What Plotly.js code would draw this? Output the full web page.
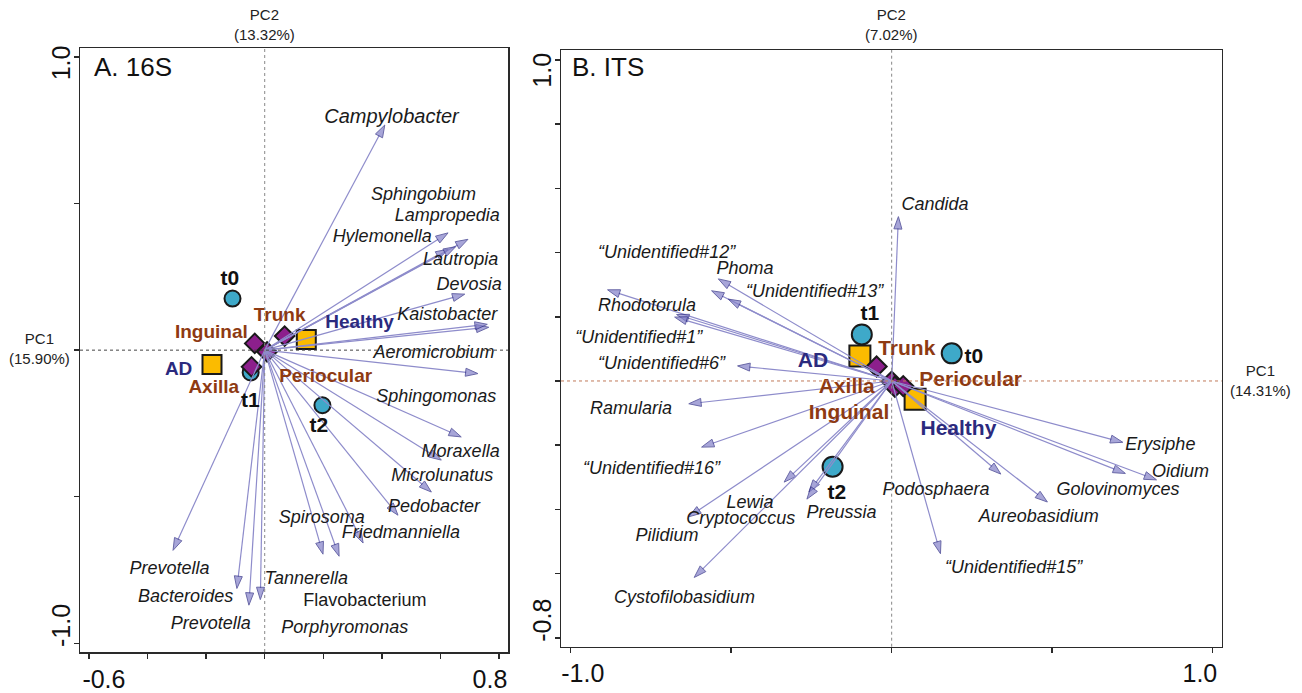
<!DOCTYPE html>
<html><head><meta charset="utf-8">
<script src="https://cdn.plot.ly/plotly-3.0.1.min.js"></script>
<style>html,body{margin:0;padding:0;background:#fff}#chart{width:1302px;height:693px}</style>
</head><body><div id="chart"></div>
<script>
// ---------- Panel A: 16S ----------
const circleLabelsA = ['t0','t1','t2'];
const circleXA = [-0.110, -0.048, 0.197];
const circleYA = [0.176, -0.076, -0.188];
const squareLabelsA = ['Healthy','AD'];
const squareXA = [0.142, -0.180];
const squareYA = [0.036, -0.049];
const diamondLabelsA = ['Trunk','Inguinal','Periocular','Axilla'];
const diamondXA = [0.068, -0.034, 0.008, -0.045];
const diamondYA = [0.048, 0.023, -0.006, -0.057];

const groupTextA = ['t0','t1','t2','Healthy','AD','Trunk','Inguinal','Periocular','Axilla'];
const groupKindA = ['time','time','time','status','status','site','site','site','site'];
const groupTextXA = [-0.119, -0.049, 0.185, 0.324, -0.294, 0.051, -0.182, 0.208, -0.174];
const groupTextYA = [0.239, -0.176, -0.262, 0.092, -0.068, 0.114, 0.057, -0.094, -0.131];

const arrowXA = [0.41, 0.626, 0.694, 0.626, 0.652, 0.683, 0.765, 0.760, 0.728, 0.671, 0.603, 0.569, 0.455, 0.336, 0.199, 0.254, -0.313, -0.095, -0.054, -0.015];
const arrowYA = [0.768, 0.400, 0.378, 0.344, 0.353, 0.191, 0.078, 0.088, -0.080, -0.296, -0.375, -0.484, -0.563, -0.658, -0.696, -0.703, -0.683, -0.813, -0.870, -0.851];

const speciesA = ['Campylobacter','Sphingobium','Lampropedia','Hylemonella','Lautropia','Devosia','Kaistobacter','Aeromicrobium','Sphingomonas','Moraxella','Microlunatus','Pedobacter','Spirosoma','Friedmanniella','Prevotella','Tannerella','Bacteroides','Flavobacterium','Prevotella','Porphyromonas'];
const speciesXA = [0.433, 0.542, 0.623, 0.401, 0.669, 0.698, 0.623, 0.578, 0.586, 0.669, 0.606, 0.578, 0.195, 0.465, -0.325, 0.142, -0.270, 0.342, -0.184, 0.273];
const speciesYA = [0.791, 0.529, 0.457, 0.385, 0.305, 0.222, 0.119, -0.011, -0.163, -0.350, -0.430, -0.537, -0.574, -0.624, -0.749, -0.783, -0.844, -0.856, -0.935, -0.950];
const uprightA = ['Flavobacterium'];

// ---------- Panel B: ITS ----------
const circleLabelsB = ['t1','t0','t2'];
const circleXB = [-0.093, 0.187, -0.184];
const circleYB = [0.145, 0.086, -0.267];
const squareLabelsB = ['AD','Healthy'];
const squareXB = [-0.099, 0.073];
const squareYB = [0.078, -0.057];
const diamondLabelsB = ['Trunk','Axilla','Inguinal','Periocular'];
const diamondXB = [-0.047, 0.000, 0.010, 0.036];
const diamondYB = [0.045, -0.002, -0.018, -0.016];

const groupTextB = ['t1','t0','t2','AD','Healthy','Trunk','Axilla','Inguinal','Periocular'];
const groupKindB = ['time','time','time','status','status','site','site','site','site'];
const groupTextXB = [-0.068, 0.256, -0.171, -0.245, 0.208, 0.047, -0.140, -0.133, 0.246];
const groupTextYB = [0.206, 0.073, -0.350, 0.060, -0.153, 0.097, -0.020, -0.101, 0.000];

const arrowXB = [0.021, -0.540, -0.561, -0.509, -0.885, -0.670, -0.676, -0.480, -0.632, -0.592, -0.335, -0.632, -0.615, -0.258, -0.264, 0.340, 0.485, 0.728, 0.825, 0.720, 0.152];
const arrowYB = [0.512, 0.318, 0.281, 0.255, 0.284, 0.207, 0.199, 0.047, -0.071, -0.206, -0.315, -0.423, -0.612, -0.346, -0.368, -0.290, -0.377, -0.288, -0.308, -0.191, -0.538];

const speciesB = ['Candida','“Unidentified#12”','Phoma','“Unidentified#13”','Rhodotorula','“Unidentified#1”','“Unidentified#6”','Ramularia','“Unidentified#16”','Lewia','Cryptococcus','Pilidium','Cystofilobasidium','Preussia','Podosphaera','Aureobasidium','Golovinomyces','Erysiphe','Oidium','“Unidentified#15”'];
const speciesXB = [0.135, -0.701, -0.457, -0.240, -0.762, -0.788, -0.717, -0.812, -0.748, -0.441, -0.470, -0.700, -0.645, -0.156, 0.138, 0.458, 0.705, 0.837, 0.900, 0.380];
const speciesYB = [0.546, 0.398, 0.346, 0.275, 0.231, 0.133, 0.050, -0.088, -0.275, -0.381, -0.431, -0.485, -0.677, -0.412, -0.340, -0.426, -0.340, -0.202, -0.285, -0.584];

// axis ticks and labels
const xTicksA = [-0.6,-0.4,-0.2,0,0.2,0.4,0.6,0.8];
const yTicksA = [-1.0,-0.5,0,0.5,1.0];
const xTicksB = [-1.0,-0.5,0,0.5,1.0];
const yTicksB = [-0.8,-0.6,-0.4,-0.2,0,0.2,0.4,0.6,0.8,1.0];
const xLabelTextA = ['-0.6','0.8'], xLabelPosA = [-0.549, 0.769];
const yLabelTextA = ['-1.0','1.0'], yLabelPosA = [-0.952, 0.967];
const xLabelTextB = ['-1.0','1.0'], xLabelPosB = [-0.962, 0.960];
const yLabelTextB = ['-0.8','1.0'], yLabelPosB = [-0.757, 0.956];

// ---------- styling ----------
const FONT = 'Liberation Sans, Arial, Helvetica, sans-serif';
const COL = {time:'#111111', status:'#2b2a7e', site:'#8e3a12'};
const circleFill = '#3ea9c9', squareFill = '#fbbb00', diamondFill = '#8c1f8c', edge = '#1a1a1a';
const arrowLine = '#8e8ccb', headFill = '#8380c8', headEdge = '#2b2983';
const bigSpecies = {'Campylobacter': 20};

const traces = [];
function markers(xs, ys, sym, fill, size, ax, ay) {
  traces.push({type:'scatter', mode:'markers', x:xs, y:ys, xaxis:ax, yaxis:ay,
    marker:{symbol:sym, size:size, color:fill, line:{color:edge, width:2}},
    hoverinfo:'skip', showlegend:false, cliponaxis:false});
}
function arrows(xs, ys, ax, ay) {
  for (let i = 0; i < xs.length; i++) {
    traces.push({type:'scatter', mode:'lines+markers', x:[0, xs[i]], y:[0, ys[i]], xaxis:ax, yaxis:ay,
      line:{color:arrowLine, width:1.2},
      marker:{symbol:'arrow', angleref:'previous', size:[0, 13], color:headFill, line:{color:headEdge, width:1}},
      hoverinfo:'skip', showlegend:false, cliponaxis:false});
  }
}
function species(names, xs, ys, upright, ax, ay) {
  traces.push({type:'scatter', mode:'text', x:xs, y:ys, xaxis:ax, yaxis:ay,
    text:names.map(n => upright.includes(n) ? n : '<i>' + n + '</i>'),
    textposition:'middle center',
    textfont:{family:FONT, size:names.map(n => bigSpecies[n] || 18), color:'#1a1a1a'},
    hoverinfo:'skip', showlegend:false, cliponaxis:false});
}
function groups(names, kinds, xs, ys, size, timeSize, ax, ay) {
  traces.push({type:'scatter', mode:'text', x:xs, y:ys, xaxis:ax, yaxis:ay, text:names,
    textposition:'middle center',
    textfont:{family:FONT, size:kinds.map(k => k === 'time' ? timeSize : size), weight:'bold', color:kinds.map(k => COL[k])},
    hoverinfo:'skip', showlegend:false, cliponaxis:false});
}

// Panel A
markers(circleXA, circleYA, 'circle', circleFill, 16, 'x', 'y');
markers(squareXA, squareYA, 'square', squareFill, 19, 'x', 'y');
markers(diamondXA, diamondYA, 'diamond', diamondFill, 15, 'x', 'y');
arrows(arrowXA, arrowYA, 'x', 'y');
species(speciesA, speciesXA, speciesYA, uprightA, 'x', 'y');
groups(groupTextA, groupKindA, groupTextXA, groupTextYA, 19, 21, 'x', 'y');
// Panel B
markers(circleXB, circleYB, 'circle', circleFill, 20, 'x2', 'y2');
markers(squareXB, squareYB, 'square', squareFill, 21, 'x2', 'y2');
markers(diamondXB, diamondYB, 'diamond', diamondFill, 15.5, 'x2', 'y2');
arrows(arrowXB, arrowYB, 'x2', 'y2');
species(speciesB, speciesXB, speciesYB, [], 'x2', 'y2');
groups(groupTextB, groupKindB, groupTextXB, groupTextYB, 21, 21, 'x2', 'y2');

const W = 1302, H = 693;
function xAxis(dom, rng, lblPos, lblTxt, ticks) {
  return {domain:dom, range:rng, showgrid:false, zeroline:false, showline:true, mirror:true,
    linecolor:'#2a2a2a', linewidth:1.5, tickmode:'array', tickvals:lblPos, ticktext:lblTxt,
    ticks:'', ticklabelstandoff:4, tickfont:{family:FONT, size:25, color:'#111'},
    minor:{tickmode:'array', tickvals:ticks, ticks:'outside', ticklen:5, tickwidth:1.5, tickcolor:'#2a2a2a', showgrid:false},
    fixedrange:true};
}
function yAxis(dom, rng, lblPos, lblTxt, ticks, anchor) {
  return {domain:dom, range:rng, anchor:anchor, showgrid:false, zeroline:false, showline:true, mirror:true,
    linecolor:'#2a2a2a', linewidth:1.5, tickmode:'array', tickvals:lblPos, ticktext:lblTxt,
    ticks:'', tickangle:-90, ticklabelstandoff:-1, tickfont:{family:FONT, size:25, color:'#111'},
    minor:{tickmode:'array', tickvals:ticks, ticks:'outside', ticklen:5, tickwidth:1.5, tickcolor:'#2a2a2a', showgrid:false},
    fixedrange:true};
}

const layout = {
  width:W, height:H, margin:{l:0, r:0, t:0, b:0}, paper_bgcolor:'#fff', plot_bgcolor:'#fff',
  font:{family:FONT},
  xaxis: xAxis([80/W, 508/W], [-0.6307, 0.8307], xLabelPosA, xLabelTextA, xTicksA),
  yaxis: yAxis([1-652/H, 1-48/H], [-1.0297, 1.0307], yLabelPosA, yLabelTextA, yTicksA, 'x'),
  xaxis2: Object.assign(xAxis([561/W, 1221.7/W], [-1.030, 1.028], xLabelPosB, xLabelTextB, xTicksB), {anchor:'y2'}),
  yaxis2: yAxis([1-646.7/H, 1-50/H], [-0.8277, 1.031], yLabelPosB, yLabelTextB, yTicksB, 'x2'),
  shapes: [
    {type:'line', xref:'x', yref:'y domain', x0:0, x1:0, y0:0, y1:1, line:{color:'#888', width:1, dash:'dot'}},
    {type:'line', xref:'x domain', yref:'y', x0:0, x1:1, y0:0, y1:0, line:{color:'#444', width:1, dash:'dot'}},
    {type:'line', xref:'x2', yref:'y2 domain', x0:0, x1:0, y0:0, y1:1, line:{color:'#888', width:1, dash:'dot'}},
    {type:'line', xref:'x2 domain', yref:'y2', x0:0, x1:1, y0:0, y1:0, line:{color:'#c07a5a', width:1, dash:'dot'}}
  ],
  annotations: [
    {xref:'paper', yref:'paper', x:92/W, y:1-67/H, xanchor:'left', yanchor:'middle', showarrow:false,
     text:'A. 16S', font:{family:FONT, size:26, color:'#111'}},
    {xref:'paper', yref:'paper', x:570/W, y:1-67/H, xanchor:'left', yanchor:'middle', showarrow:false,
     text:'B. ITS', font:{family:FONT, size:26, color:'#111'}},
    {xref:'x', yref:'paper', x:0, y:1-25/H, xanchor:'center', yanchor:'middle', showarrow:false,
     text:'PC2<br>(13.32%)', font:{family:FONT, size:15, color:'#222'}},
    {xref:'paper', yref:'y', x:39.5/W, y:0.006, xanchor:'center', yanchor:'middle', showarrow:false,
     text:'PC1<br>(15.90%)', font:{family:FONT, size:15, color:'#222'}},
    {xref:'x2', yref:'paper', x:0, y:1-25/H, xanchor:'center', yanchor:'middle', showarrow:false,
     text:'PC2<br>(7.02%)', font:{family:FONT, size:15, color:'#222'}},
    {xref:'paper', yref:'y2', x:1260/W, y:0, xanchor:'center', yanchor:'middle', showarrow:false,
     text:'PC1<br>(14.31%)', font:{family:FONT, size:15, color:'#222'}}
  ]
};

Plotly.newPlot('chart', traces, layout, {displayModeBar:false, staticPlot:true});
</script></body></html>
